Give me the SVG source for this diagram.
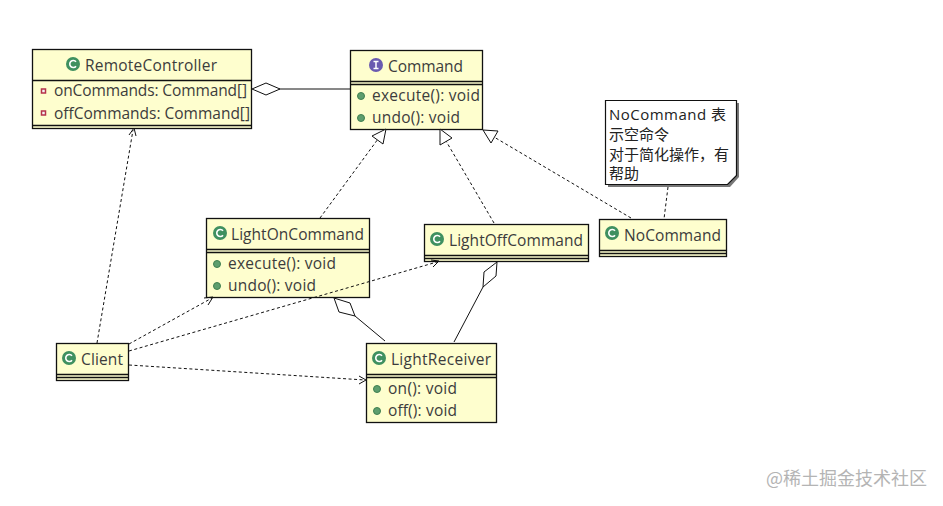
<svg xmlns="http://www.w3.org/2000/svg" width="943" height="506" viewBox="0 0 943 506">
<style>
.box{fill:#fefece;stroke:#111;stroke-width:1.3}
.sep{stroke:#111;stroke-width:1.3;fill:none}
.t{font-family:"Open Sans","DejaVu Sans",sans-serif;font-size:15.500px;fill:#3c3c3c}
.n{font-family:"Open Sans","Noto Sans CJK SC",sans-serif;font-size:15px;fill:#222}
.dash{stroke:#111;stroke-width:1;stroke-dasharray:3 2.500;fill:none}
.solid{stroke:#111;stroke-width:1;fill:none}
.open{stroke:#111;stroke-width:1;fill:#fff}
.head{stroke:#111;stroke-width:1;fill:none}
.g{fill:#5e9e6e;stroke:#3f7f50;stroke-width:1}
.cg{fill:#3f9060}
.cl{fill:none;stroke:#fff;stroke-width:1.600}
.p{fill:#f4f4f4;stroke:#b5324a;stroke-width:1.500}
</style>
<defs>
<g id="c"><circle r="7" class="cg"/><path d="M3 -2.200A3.500 3.500 0 1 0 3 2.200" class="cl"/></g>
<g id="m"><circle r="3.500" class="g"/></g>
<g id="pv"><rect x="-2" y="-2" width="4" height="4" class="p"/></g>
</defs>
<rect width="943" height="506" fill="#fff"/>
<g id="RemoteController">
<rect class="box" x="32.500" y="49.500" width="219" height="79"/>
<path class="sep" d="M32.500 80.500H251.500M32.500 125.500H251.500"/>
<use href="#c" x="73" y="64"/>
<text class="t" x="85" y="71" textLength="132">RemoteController</text>
<use href="#pv" x="43.500" y="91"/><use href="#pv" x="43.500" y="113"/>
<text class="t" x="54" y="96" textLength="193">onCommands: Command[]</text>
<text class="t" x="54" y="119" textLength="196">offCommands: Command[]</text>
</g>
<g id="Command">
<rect class="box" x="350.500" y="50.500" width="132" height="79"/>
<path class="sep" d="M350.500 81.500H482.500M350.500 84.500H482.500"/>
<circle cx="376" cy="65" r="7" fill="#6a5ab0"/><path d="M373.500 61.500H378.500M376 61.500V68.500M373.500 68.500H378.500" stroke="#fff" stroke-width="1.500" fill="none"/>
<text class="t" x="388" y="72" textLength="75">Command</text>
<use href="#m" x="361" y="96"/><use href="#m" x="361" y="118"/>
<text class="t" x="372" y="101" textLength="108">execute(): void</text>
<text class="t" x="372" y="123" textLength="88">undo(): void</text>
</g>
<g id="Note">
<path fill="#777" d="M608 103H739V177L730 187H608Z"/>
<path d="M605.500 100.500H736.500V175.500L727.500 184.500H605.500Z" fill="#fff" stroke="#111" stroke-width="1.200"/>
<text class="n" x="609" y="120" textLength="117">NoCommand 表</text>
<text class="n" x="609" y="140">示空命令</text>
<text class="n" x="609" y="160">对于简化操作，有</text>
<text class="n" x="609" y="179">帮助</text>
</g>
<g id="NoCommand">
<rect class="box" x="599.500" y="219.500" width="127" height="37"/>
<path class="sep" d="M599.500 250.500H726.500M599.500 253.500H726.500"/>
<use href="#c" x="612" y="233"/>
<text class="t" x="624" y="241" textLength="97">NoCommand</text>
</g>
<g id="LightOnCommand">
<rect class="box" x="206.500" y="218.500" width="163" height="79"/>
<path class="sep" d="M206.500 249.500H369.500M206.500 252.500H369.500"/>
<use href="#c" x="220" y="233"/>
<text class="t" x="231" y="240" textLength="133">LightOnCommand</text>
<use href="#m" x="217" y="264"/><use href="#m" x="217" y="286"/>
<text class="t" x="228" y="269" textLength="108">execute(): void</text>
<text class="t" x="228" y="291" textLength="88">undo(): void</text>
</g>
<g id="LightOffCommand">
<rect class="box" x="424.500" y="224.500" width="164" height="37"/>
<path class="sep" d="M424.500 255.500H588.500M424.500 258.500H588.500"/>
<use href="#c" x="437" y="239"/>
<text class="t" x="449" y="246" textLength="134">LightOffCommand</text>
</g>
<g id="Client">
<rect class="box" x="56.500" y="343.500" width="72" height="37"/>
<path class="sep" d="M56.500 374.500H128.500M56.500 377.500H128.500"/>
<use href="#c" x="69" y="358"/>
<text class="t" x="81" y="365" textLength="42">Client</text>
</g>
<g id="LightReceiver">
<rect class="box" x="366.500" y="343.500" width="130" height="79"/>
<path class="sep" d="M366.500 374.500H496.500M366.500 377.500H496.500"/>
<use href="#c" x="379" y="358"/>
<text class="t" x="391" y="365" textLength="100">LightReceiver</text>
<use href="#m" x="377" y="389"/><use href="#m" x="377" y="411"/>
<text class="t" x="388" y="394" textLength="69">on(): void</text>
<text class="t" x="388" y="416" textLength="69">off(): void</text>
</g>
<g id="connectors">
<path class="dash" d="M97 343L133 130"/><path class="head" d="M129 135L134 128L136 136"/>
<path class="solid" d="M279 89H350"/><path class="open" d="M252 89L266 83L280 89L266 95Z"/>
<path class="dash" d="M320 218L378 139"/><path class="open" d="M386 129L383 144L372 136Z"/>
<path class="dash" d="M494 223L446 141"/><path class="open" d="M440 129L452 138L440 145Z"/>
<path class="dash" d="M631 218L494 137"/><path class="open" d="M483 130L498 131L491 143Z"/>
<path class="dash" d="M668 187L664 219"/>
<path class="dash" d="M129 344L212 298"/><path class="head" d="M204 298L213 297L208 305"/>
<path class="dash" d="M129 351L437 262"/><path class="head" d="M431 260L439 261L433 267"/>
<path class="dash" d="M129 365L365 380"/><path class="head" d="M359 376L366 380L359 384"/>
<path class="solid" d="M385 341L355 316"/><path class="open" d="M334 298L350 303L355 316L339 312Z"/>
<path class="solid" d="M454 342L483 287"/><path class="open" d="M497 262L496 276L483 287L484 272Z"/>
</g>
<text x="766" y="485" font-family="'Noto Sans CJK SC',sans-serif" font-size="18" fill="#b4b4b4">@稀土掘金技术社区</text>
</svg>
